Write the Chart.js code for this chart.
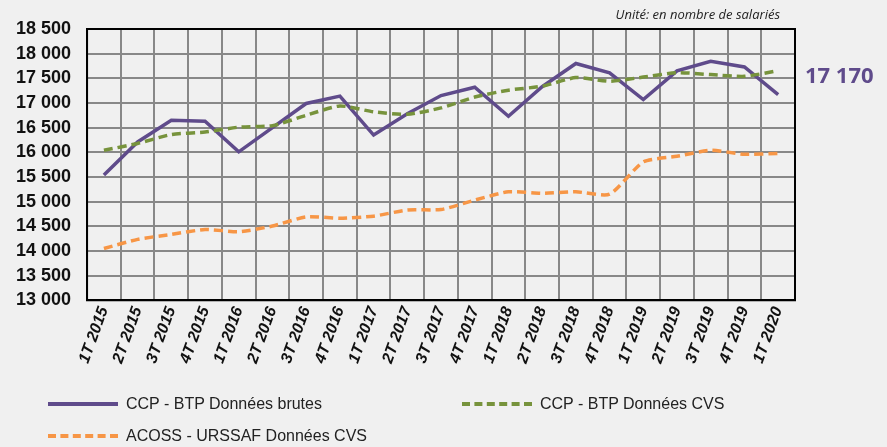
<!DOCTYPE html>
<html>
<head>
<meta charset="utf-8">
<script src="https://cdn.jsdelivr.net/npm/chart.js@4.4.0/dist/chart.umd.min.js"></script>
<style>
  body { margin: 0; background: #f0f0f0; }
  #wrap { position: relative; width: 887px; height: 447px; }
  #unit { position: absolute; right: 107px; top: 5px; font: italic 13px "Open Sans", "Liberation Sans", sans-serif; color: #222; }
  .leg { position: absolute; font: 16px "Liberation Sans Narrow", "Liberation Sans", sans-serif; color: #222; display: flex; align-items: center; }
  .leg span.s { display: inline-block; width: 70px; height: 0; margin-right: 8px; }
</style>
</head>
<body>
<div id="wrap">
  <canvas id="c" width="887" height="447"></canvas>
  <div id="unit">Unité: en nombre de salariés</div>
  <div class="leg" style="left:48px; top:395px;"><span class="s" style="border-top:4px solid #5f4b8b;"></span>CCP - BTP Données brutes</div>
  <div class="leg" style="left:462px; top:395px;"><span class="s" style="border-top:4px dashed #77933c;"></span>CCP - BTP Données CVS</div>
  <div class="leg" style="left:48px; top:427px;"><span class="s" style="border-top:4px dashed #f79646;"></span>ACOSS - URSSAF Données CVS</div>
</div>
<script>
const quarters = ['1T 2015','2T 2015','3T 2015','4T 2015','1T 2016','2T 2016','3T 2016','4T 2016',
  '1T 2017','2T 2017','3T 2017','4T 2017','1T 2018','2T 2018','3T 2018','4T 2018',
  '1T 2019','2T 2019','3T 2019','4T 2019','1T 2020'];
const ccpBrutes = [15540, 16210, 16650, 16630, 16010, 16500, 16990, 17140, 16350, 16780, 17150,
  17320, 16730, 17330, 17800, 17610, 17070, 17650, 17845, 17730, 17170];
const ccpCvs = [16040, 16180, 16360, 16410, 16510, 16540, 16750, 16940, 16820, 16770, 16900,
  17120, 17260, 17340, 17515, 17440, 17525, 17615, 17575, 17540, 17655];
const acossCvs = [14050, 14235, 14335, 14435, 14390, 14505, 14690, 14665, 14705, 14830, 14840,
  15030, 15200, 15170, 15200, 15150, 15805, 15920, 16040, 15960, 15975];

const fmt = v => String(v).replace(/\B(?=(\d{3})+(?!\d))/g, ' ');

const frame = {
  id: 'frame',
  afterDraw(chart) {
    const a = chart.chartArea, ctx = chart.ctx;
    ctx.save();
    ctx.strokeStyle = '#000';
    ctx.lineWidth = 2;
    ctx.strokeRect(a.left, a.top, a.right - a.left, a.bottom - a.top);
    const y = chart.scales.y.getPixelForValue(ccpBrutes[ccpBrutes.length - 1]);
    ctx.fillStyle = '#5f4b8b';
    ctx.font = 'bold 22px "Open Sans", "Liberation Sans", sans-serif';
    ctx.textBaseline = 'middle';
    ctx.fillText(fmt(ccpBrutes[ccpBrutes.length - 1]), a.right + 10, y - 18);
    ctx.restore();
  }
};

new Chart(document.getElementById('c'), {
  type: 'line',
  data: {
    labels: quarters,
    datasets: [
      { label: 'ACOSS - URSSAF Données CVS', data: acossCvs, borderColor: '#f79646', borderWidth: 3.5,
        borderDash: [9, 5], tension: 0.2, pointRadius: 0 },
      { label: 'CCP - BTP Données CVS', data: ccpCvs, borderColor: '#77933c', borderWidth: 3.5,
        borderDash: [9, 5], tension: 0.2, pointRadius: 0 },
      { label: 'CCP - BTP Données brutes', data: ccpBrutes, borderColor: '#5f4b8b', borderWidth: 3.5,
        tension: 0, pointRadius: 0 }
    ]
  },
  options: {
    responsive: false,
    animation: false,
    layout: { padding: { top: 29, right: 92, left: 0, bottom: 77 } },
    plugins: { legend: { display: false }, tooltip: { enabled: false } },
    scales: {
      x: {
        offset: true,
        grid: { offset: true, color: '#888', lineWidth: 2, drawTicks: false },
        border: { color: '#000', width: 2 },
        ticks: { color: '#111', maxRotation: 70, minRotation: 70, padding: 4,
          font: { family: '"Liberation Sans", sans-serif', size: 16, weight: 'bold', style: 'italic' } }
      },
      y: {
        min: 13000, max: 18500,
        grid: { color: '#888', lineWidth: 2, drawTicks: false },
        border: { color: '#000', width: 2 },
        ticks: { stepSize: 500, color: '#111', padding: 16, callback: v => fmt(v),
          font: { family: '"Liberation Sans", sans-serif', size: 18, weight: 'bold' } }
      }
    }
  },
  plugins: [frame]
});
</script>
</body>
</html>
